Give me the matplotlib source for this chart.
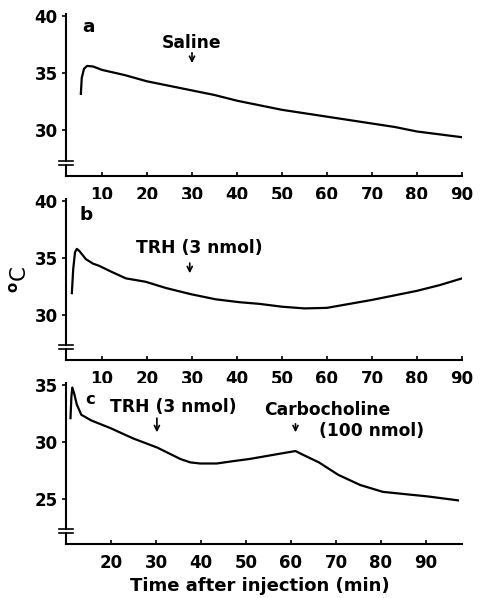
import numpy as np
import matplotlib.pyplot as plt

# panel a: saline
time_a = [5.3, 5.5, 6.0, 6.7, 8, 10, 15, 20, 25, 30, 35, 40, 45, 50, 55, 60, 65, 70, 75, 80, 85, 90]
temp_a = [33.2, 34.6, 35.4, 35.65, 35.6, 35.3, 34.85, 34.3, 33.9, 33.5, 33.1, 32.6, 32.2, 31.8, 31.5, 31.2, 30.9, 30.6, 30.3, 29.9, 29.65, 29.4]

# panel b: TRH (3 nmol)
time_b = [3.3, 3.6, 4.0, 4.4, 5.0, 6.4, 8, 9.4, 12, 15.3, 19.7, 24.2, 29.8, 35.3, 40.5, 45, 50, 55, 60, 65, 70, 75, 80, 85, 90]
temp_b = [31.9, 34.0, 35.5, 35.8, 35.6, 34.9, 34.5, 34.3, 33.8, 33.2, 32.9, 32.35, 31.8, 31.35, 31.1, 30.95, 30.7, 30.55, 30.6, 30.95, 31.3, 31.7, 32.1, 32.6, 33.2]

# panel c: TRH (3 nmol) then carbocholine (100 nmol)
time_c = [11.0, 11.2, 11.4, 11.8, 12.4, 13.4, 15.6, 20, 22.2, 25, 30.3, 35.4, 37.6, 39.8, 43.5, 47, 50.8, 56.6, 61, 62.5, 66.2, 70.5, 75.4, 80.4, 85.3, 90.3, 97.1]
temp_c = [32.1, 34.0, 34.8, 34.3, 33.3, 32.4, 31.9, 31.2, 30.8, 30.3, 29.5, 28.5, 28.2, 28.1, 28.1, 28.3, 28.5, 28.9, 29.2, 28.9, 28.2, 27.1, 26.2, 25.6, 25.4, 25.2, 24.85]

plt.rcParams['font.family'] = 'DejaVu Sans'
plt.rcParams['font.weight'] = 'bold'
fs = 12.3

fig = plt.figure(figsize=(4.8, 5.98), dpi=100)
W, H = 480, 598


def make_ax(top, bottom, xlim, ylim, xticks, yticks, brk):
    ax = fig.add_axes([66 / W, 1 - bottom / H, 396 / W, (bottom - top) / H])
    ax.set_xlim(*xlim)
    ax.set_ylim(*ylim)
    ax.set_xticks(xticks)
    ax.set_yticks(yticks)
    ax.tick_params(labelsize=12, width=1.2, length=3, pad=3)
    ax.tick_params(axis='x', direction='in', pad=7)
    for s in ['top', 'right']:
        ax.spines[s].set_visible(False)
    for s in ['left', 'bottom']:
        ax.spines[s].set_linewidth(1.5)
    # axis break on the y axis
    ax.spines['left'].set_bounds(brk + 0.35, ylim[1])
    ax.plot([xlim[0], xlim[0]], [ylim[0], brk], color='black', lw=1.5, clip_on=False)
    for yb in [brk, brk + 0.35]:
        ax.plot([-0.018, 0.018], [yb, yb], color='black', lw=1.2,
                transform=ax.get_yaxis_transform(), clip_on=False)
    return ax


def arrow(ax, x, y0, y1):
    ax.annotate('', xy=(x, y1), xytext=(x, y0),
                arrowprops=dict(arrowstyle='->', lw=1.2, color='black', shrinkA=0, shrinkB=0,
                                mutation_scale=9))


ax = make_ax(14, 176, (2, 90), (26, 40.2), range(10, 91, 10), [30, 35, 40], 26.95)
ax.plot(time_a, temp_a, color='black', lw=1.6)
ax.text(7.1, 39.1, 'a', fontsize=fs + 1, ha='center', va='center')
ax.text(30, 37.65, 'Saline', fontsize=fs, ha='center', va='center')
arrow(ax, 30, 36.8, 35.9)

ax = make_ax(199, 360, (2, 90), (26, 40.2), range(10, 91, 10), [30, 35, 40], 26.95)
ax.plot(time_b, temp_b, color='black', lw=1.6)
ax.text(6.5, 38.75, 'b', fontsize=fs + 1, ha='center', va='center')
ax.text(31.6, 35.9, 'TRH (3 nmol)', fontsize=fs, ha='center', va='center')
arrow(ax, 29.5, 34.55, 33.65)
ax.set_ylabel('$^{\\mathbf{o}}$C', fontsize=fs + 3, labelpad=3)

ax = make_ax(383, 544, (10, 98), (21, 35.2), range(20, 91, 10), [25, 30, 35], 21.95)
ax.plot(time_c, temp_c, color='black', lw=1.6)
ax.text(15.4, 33.76, 'c', fontsize=fs - 0.5, ha='center', va='center')
ax.text(33.8, 33.05, 'TRH (3 nmol)', fontsize=fs, ha='center', va='center')
arrow(ax, 30.2, 32.1, 30.85)
ax.text(68.1, 32.8, 'Carbocholine', fontsize=fs, ha='center', va='center')
ax.text(78, 31.0, '(100 nmol)', fontsize=fs, ha='center', va='center')
arrow(ax, 61, 31.6, 30.85)
fig.text(260 / W, 1 - 586 / H, 'Time after injection (min)', fontsize=13,
         ha='center', va='center')

fig.savefig('out.png', dpi=100)
